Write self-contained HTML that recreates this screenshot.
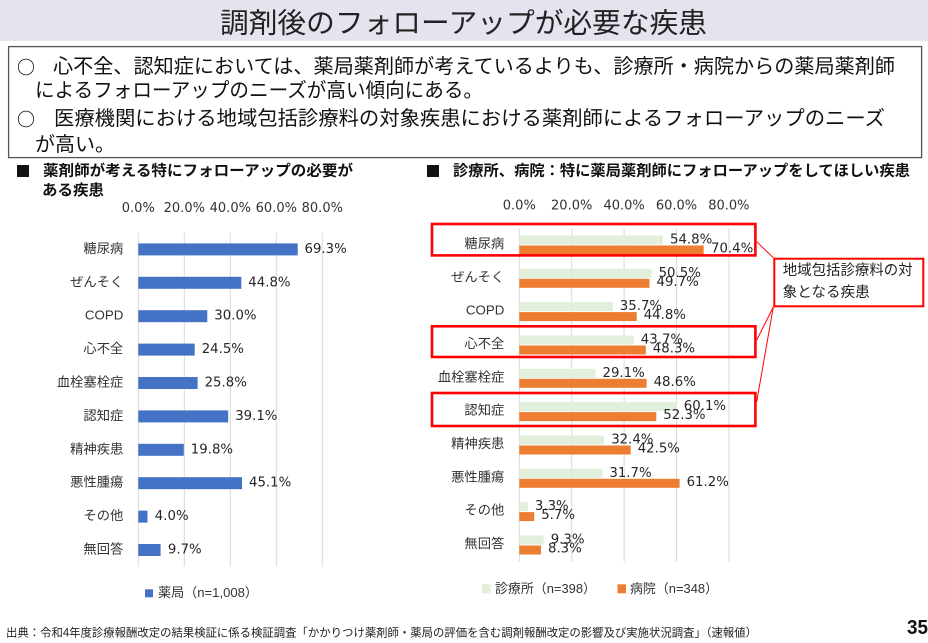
<!DOCTYPE html>
<html><head><meta charset="utf-8"><style>
html,body{margin:0;padding:0;background:#fff;width:928px;height:643px;overflow:hidden}
svg{display:block}
.jp{font-family:"Liberation Sans","Noto Sans CJK JP",sans-serif}
.cjk{font-family:"Noto Sans CJK JP",sans-serif}
.num{font-family:"DejaVu Sans","Noto Sans CJK JP",sans-serif}
</style></head><body>
<svg width="928" height="643" viewBox="0 0 928 643" xmlns="http://www.w3.org/2000/svg">
<!-- header -->
<rect x="0" y="0" width="928" height="41" fill="#E4E3EE"/>
<text class="jp" x="220" y="23" font-size="28" fill="#222" dominant-baseline="central" textLength="487" lengthAdjust="spacingAndGlyphs">調剤後のフォローアップが必要な疾患</text>
<!-- summary box -->
<rect x="8.6" y="46.6" width="913" height="111" fill="#fff" stroke="#555" stroke-width="1.3"/>
<g class="jp" font-size="20" fill="#111" dominant-baseline="central">
<text class="cjk" x="17" y="67" font-size="18" font-weight="bold">○</text>
<text x="53" y="67" textLength="842" lengthAdjust="spacingAndGlyphs">心不全、認知症においては、薬局薬剤師が考えているよりも、診療所・病院からの薬局薬剤師</text>
<text x="35" y="91" textLength="448" lengthAdjust="spacingAndGlyphs">によるフォローアップのニーズが高い傾向にある。</text>
<text class="cjk" x="17" y="119" font-size="18" font-weight="bold">○</text>
<text x="54" y="119" textLength="831" lengthAdjust="spacingAndGlyphs">医療機関における地域包括診療料の対象疾患における薬剤師によるフォローアップのニーズ</text>
<text x="35" y="145" textLength="80" lengthAdjust="spacingAndGlyphs">が高い。</text>
</g>
<!-- subtitles -->
<rect x="17" y="165" width="12" height="12" fill="#111"/>
<g class="jp" font-size="15" font-weight="bold" fill="#111" dominant-baseline="central">
<text x="43" y="171" textLength="310" lengthAdjust="spacingAndGlyphs">薬剤師が考える特にフォローアップの必要が</text>
<text x="42" y="190.5" textLength="62" lengthAdjust="spacingAndGlyphs">ある疾患</text>
<text x="453" y="171" textLength="457" lengthAdjust="spacingAndGlyphs">診療所、病院：特に薬局薬剤師にフォローアップをしてほしい疾患</text>
</g>
<rect x="427" y="165" width="12" height="12" fill="#111"/>

<!-- LEFT CHART -->
<g stroke="#D9D9D9" stroke-width="1">
<line x1="138.3" y1="232.7" x2="138.3" y2="566.7"/>
<line x1="184.3" y1="232.7" x2="184.3" y2="566.7"/>
<line x1="230.3" y1="232.7" x2="230.3" y2="566.7"/>
<line x1="276.3" y1="232.7" x2="276.3" y2="566.7"/>
<line x1="322.3" y1="232.7" x2="322.3" y2="566.7"/>
</g>
<g class="num" font-size="13" fill="#333" text-anchor="middle" dominant-baseline="central">
<text x="138.3" y="208.5">0.0%</text>
<text x="184.3" y="208.5">20.0%</text>
<text x="230.3" y="208.5">40.0%</text>
<text x="276.3" y="208.5">60.0%</text>
<text x="322.3" y="208.5">80.0%</text>
</g>
<g fill="#4472C4">
<rect x="138.3" y="243.4" width="159.4" height="12"/>
<rect x="138.3" y="276.8" width="103.0" height="12"/>
<rect x="138.3" y="310.2" width="69.0" height="12"/>
<rect x="138.3" y="343.6" width="56.4" height="12"/>
<rect x="138.3" y="377.0" width="59.3" height="12"/>
<rect x="138.3" y="410.4" width="89.9" height="12"/>
<rect x="138.3" y="443.8" width="45.5" height="12"/>
<rect x="138.3" y="477.2" width="103.7" height="12"/>
<rect x="138.3" y="510.6" width="9.2" height="12"/>
<rect x="138.3" y="544.0" width="22.3" height="12"/>
</g>
<g class="jp" font-size="13.3" fill="#333" text-anchor="end" dominant-baseline="central">
<text x="123.3" y="248.4">糖尿病</text>
<text x="123.3" y="281.8">ぜんそく</text>
<text x="123.3" y="315.2">COPD</text>
<text x="123.3" y="348.6">心不全</text>
<text x="123.3" y="382.0">血栓塞栓症</text>
<text x="123.3" y="415.4">認知症</text>
<text x="123.3" y="448.8">精神疾患</text>
<text x="123.3" y="482.2">悪性腫瘍</text>
<text x="123.3" y="515.6">その他</text>
<text x="123.3" y="549.0">無回答</text>
</g>
<g class="num" font-size="13.3" fill="#262626" dominant-baseline="central">
<text x="304.5" y="249.4">69.3%</text>
<text x="248.3" y="282.8">44.8%</text>
<text x="214.3" y="316.2">30.0%</text>
<text x="201.7" y="349.6">24.5%</text>
<text x="204.6" y="383.0">25.8%</text>
<text x="235.2" y="416.4">39.1%</text>
<text x="190.8" y="449.8">19.8%</text>
<text x="249.0" y="483.2">45.1%</text>
<text x="154.8" y="516.6">4.0%</text>
<text x="167.9" y="550.0">9.7%</text>
</g>
<rect x="145" y="589.3" width="8" height="8" fill="#4472C4"/>
<text class="jp" x="158" y="592.5" font-size="13" fill="#333" dominant-baseline="central" textLength="100" lengthAdjust="spacingAndGlyphs">薬局（n=1,008）</text>

<!-- RIGHT CHART -->
<g stroke="#D9D9D9" stroke-width="1">
<line x1="519.3" y1="228.3" x2="519.3" y2="561.7"/>
<line x1="571.7" y1="228.3" x2="571.7" y2="561.7"/>
<line x1="624.1" y1="228.3" x2="624.1" y2="561.7"/>
<line x1="676.5" y1="228.3" x2="676.5" y2="561.7"/>
<line x1="728.9" y1="228.3" x2="728.9" y2="561.7"/>
</g>
<g class="num" font-size="13" fill="#333" text-anchor="middle" dominant-baseline="central">
<text x="519.3" y="206">0.0%</text>
<text x="571.7" y="206">20.0%</text>
<text x="624.1" y="206">40.0%</text>
<text x="676.5" y="206">60.0%</text>
<text x="728.9" y="206">80.0%</text>
</g>
<g fill="#E2EFDA">
<rect x="519.3" y="235.5" width="143.6" height="9"/>
<rect x="519.3" y="268.8" width="132.3" height="9"/>
<rect x="519.3" y="302.1" width="93.5" height="9"/>
<rect x="519.3" y="335.5" width="114.5" height="9"/>
<rect x="519.3" y="368.8" width="76.2" height="9"/>
<rect x="519.3" y="402.1" width="157.5" height="9"/>
<rect x="519.3" y="435.5" width="84.9" height="9"/>
<rect x="519.3" y="468.8" width="83.1" height="9"/>
<rect x="519.3" y="502.1" width="8.6" height="9"/>
<rect x="519.3" y="535.5" width="24.4" height="9"/>
</g>
<g fill="#ED7D31">
<rect x="519.3" y="245.5" width="184.4" height="9"/>
<rect x="519.3" y="278.8" width="130.2" height="9"/>
<rect x="519.3" y="312.1" width="117.4" height="9"/>
<rect x="519.3" y="345.5" width="126.5" height="9"/>
<rect x="519.3" y="378.8" width="127.3" height="9"/>
<rect x="519.3" y="412.1" width="137.0" height="9"/>
<rect x="519.3" y="445.5" width="111.4" height="9"/>
<rect x="519.3" y="478.8" width="160.3" height="9"/>
<rect x="519.3" y="512.1" width="14.9" height="9"/>
<rect x="519.3" y="545.5" width="21.7" height="9"/>
</g>
<g class="jp" font-size="13.3" fill="#333" text-anchor="end" dominant-baseline="central">
<text x="504.3" y="243.5">糖尿病</text>
<text x="504.3" y="276.8">ぜんそく</text>
<text x="504.3" y="310.1">COPD</text>
<text x="504.3" y="343.5">心不全</text>
<text x="504.3" y="376.8">血栓塞栓症</text>
<text x="504.3" y="410.1">認知症</text>
<text x="504.3" y="443.5">精神疾患</text>
<text x="504.3" y="476.8">悪性腫瘍</text>
<text x="504.3" y="510.1">その他</text>
<text x="504.3" y="543.5">無回答</text>
</g>
<g class="num" font-size="13.3" fill="#262626" dominant-baseline="central">
<text x="670" y="240">54.8%</text>
<text x="711" y="249">70.4%</text>
<text x="658.6" y="273.3">50.5%</text>
<text x="656.5" y="282.3">49.7%</text>
<text x="619.8" y="306.6">35.7%</text>
<text x="643.7" y="315.6">44.8%</text>
<text x="640.8" y="340">43.7%</text>
<text x="652.8" y="349">48.3%</text>
<text x="602.5" y="373.3">29.1%</text>
<text x="653.6" y="382.3">48.6%</text>
<text x="683.8" y="406.6">60.1%</text>
<text x="663.3" y="415.6">52.3%</text>
<text x="611.2" y="440">32.4%</text>
<text x="637.7" y="449">42.5%</text>
<text x="609.4" y="473.3">31.7%</text>
<text x="686.6" y="482.3">61.2%</text>
<text x="534.9" y="506.6">3.3%</text>
<text x="541.2" y="515.6">5.7%</text>
<text x="550.7" y="540">9.3%</text>
<text x="548" y="549">8.3%</text>
</g>
<rect x="482" y="584.3" width="8.5" height="9" fill="#E2EFDA"/>
<text class="jp" x="495" y="588.5" font-size="13" fill="#333" dominant-baseline="central" textLength="101" lengthAdjust="spacingAndGlyphs">診療所（n=398）</text>
<rect x="617.5" y="584.3" width="8.5" height="9" fill="#ED7D31"/>
<text class="jp" x="630" y="588.5" font-size="13" fill="#333" dominant-baseline="central" textLength="88" lengthAdjust="spacingAndGlyphs">病院（n=348）</text>

<!-- red highlight boxes -->
<g fill="none" stroke="#FF0000" stroke-width="2.6">
<rect x="432" y="224" width="323.4" height="31.4"/>
<rect x="432" y="326.3" width="323.4" height="30.7"/>
<rect x="432" y="393" width="323.4" height="33"/>
</g>
<g stroke="#FF0000" stroke-width="1">
<line x1="756.7" y1="241.7" x2="773.3" y2="257.7"/>
<line x1="773.3" y1="307" x2="756.7" y2="340"/>
<line x1="773.3" y1="307" x2="756.7" y2="401.7"/>
</g>
<rect x="774.3" y="258.7" width="149" height="47.6" fill="#fff" stroke="#FF0000" stroke-width="2"/>
<g class="jp" font-size="14.5" fill="#222" dominant-baseline="central">
<text x="782.7" y="271" textLength="130" lengthAdjust="spacingAndGlyphs">地域包括診療料の対</text>
<text x="782.7" y="293" textLength="87" lengthAdjust="spacingAndGlyphs">象となる疾患</text>
</g>

<!-- footer -->
<text class="jp" x="6" y="633.5" font-size="11.5" fill="#222" dominant-baseline="central" textLength="751" lengthAdjust="spacingAndGlyphs">出典：令和4年度診療報酬改定の結果検証に係る検証調査「かかりつけ薬剤師・薬局の評価を含む調剤報酬改定の影響及び実施状況調査」（速報値）</text>
<text x="907" y="628" font-family="Liberation Sans, sans-serif" font-size="20" font-weight="bold" fill="#111" dominant-baseline="central" textLength="21" lengthAdjust="spacingAndGlyphs">35</text>
</svg>
</body></html>
